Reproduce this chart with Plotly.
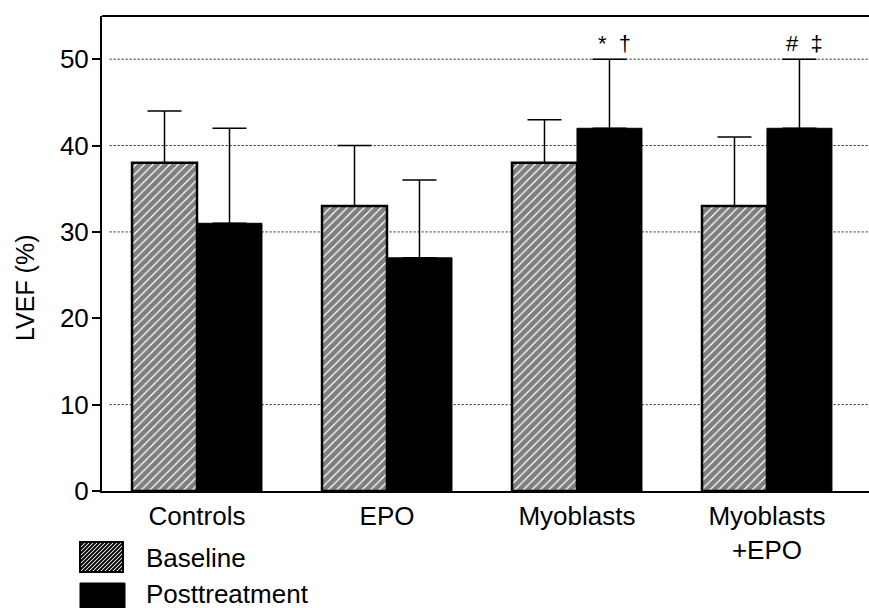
import plotly.graph_objects as go

# ---- data ----
categories = ["Controls", "EPO", "Myoblasts", "Myoblasts<br>+EPO"]
baseline = [38, 33, 38, 33]
baseline_sd = [6, 7, 5, 8]
posttreatment = [31, 27, 42, 42]
posttreatment_sd = [11, 9, 8, 8]
sig_labels = ["", "", "*  †", "#  ‡"]
y_ticks = [0, 10, 20, 30, 40, 50]
grid_levels = [10, 30, 40, 50]
legend_names = ["Baseline", "Posttreatment"]

# ---- layout constants (pixels) ----
W, H = 869, 608
L, R, T, B = 102, 0, 16, 117
PW, PH = W - L - R, H - T - B
FONT = "Liberation Sans, Arial, sans-serif"
FS = 26


def px2x(px):
    return (px - L) / PW


def py2y(py):
    return (H - B - py) / PH


fig = go.Figure()
fig.add_trace(go.Bar(
    x=categories, y=baseline, name=legend_names[0],
    marker=dict(color="white",
                pattern=dict(shape="/", fgcolor="black", bgcolor="white",
                             size=6, solidity=0.8),
                line=dict(color="black", width=2.5)),
    error_y=dict(type="data", array=baseline_sd,
                 arrayminus=[0] * len(baseline_sd), symmetric=False,
                 color="black", thickness=1.5, width=17),
    showlegend=False,
))
fig.add_trace(go.Bar(
    x=categories, y=posttreatment, name=legend_names[1],
    marker=dict(color="black", line=dict(color="black", width=1)),
    error_y=dict(type="data", array=posttreatment_sd,
                 arrayminus=[0] * len(posttreatment_sd), symmetric=False,
                 color="black", thickness=1.5, width=17),
    showlegend=False,
))

shapes = []
for g in grid_levels:
    shapes.append(dict(type="line", xref="paper", yref="y", x0=0.01, x1=1,
                       y0=g, y1=g, layer="below",
                       line=dict(color="#222222", width=1, dash="2px,2px")))
# top frame line
shapes.append(dict(type="line", xref="paper", yref="paper", x0=0, x1=1,
                   y0=1, y1=1, line=dict(color="black", width=2)))

# legend swatches drawn manually (large boxes as in the figure)
bx0, bx1, by0, by1 = 80, 123, 542, 572
shapes.append(dict(type="rect", xref="paper", yref="paper",
                   x0=px2x(bx0), x1=px2x(bx1), y0=py2y(by1), y1=py2y(by0),
                   fillcolor="white", line=dict(color="black", width=2)))
path = ""
step = 4
c = bx0 + by0
while c <= bx1 + by1:
    xa = max(bx0, c - by1)
    xb = min(bx1, c - by0)
    if xb > xa:
        path += "M%.5f,%.5f L%.5f,%.5f " % (px2x(xa), py2y(c - xa),
                                            px2x(xb), py2y(c - xb))
    c += step
shapes.append(dict(type="path", xref="paper", yref="paper", path=path,
                   line=dict(color="black", width=1.8)))
shapes.append(dict(type="rect", xref="paper", yref="paper",
                   x0=px2x(80), x1=px2x(125), y0=py2y(612), y1=py2y(583),
                   fillcolor="black", line=dict(color="black", width=1)))

annotations = [
    dict(text=legend_names[0], xref="paper", yref="paper", x=px2x(144),
         y=py2y(558), xanchor="left", yanchor="middle", showarrow=False,
         font=dict(size=FS, color="black", family=FONT)),
    dict(text=legend_names[1], xref="paper", yref="paper", x=px2x(144),
         y=py2y(594), xanchor="left", yanchor="middle", showarrow=False,
         font=dict(size=FS, color="black", family=FONT)),
    dict(text="LVEF (%)", xref="paper", yref="paper", x=px2x(25),
         y=py2y(288), xanchor="center", yanchor="middle", textangle=-90,
         showarrow=False, font=dict(size=25, color="black", family=FONT)),
]
for cat, lab, v, sd in zip(categories, sig_labels, posttreatment, posttreatment_sd):
    if lab:
        annotations.append(dict(text=lab, x=cat, y=v + sd, xref="x", yref="y",
                                xshift=38, yanchor="bottom", yshift=1,
                                showarrow=False,
                                font=dict(size=22, color="black", family=FONT)))

fig.update_layout(
    width=W, height=H,
    margin=dict(l=L, r=R, t=T, b=B),
    paper_bgcolor="white", plot_bgcolor="white",
    barmode="group", bargap=0.316, bargroupgap=0,
    font=dict(family=FONT, size=FS, color="black"),
    shapes=shapes, annotations=annotations,
    xaxis=dict(type="category", range=[-0.5, 3.537], showline=True,
               linecolor="black", linewidth=2, ticks="outside", ticklen=1,
               tickcolor="white", showgrid=False,
               tickfont=dict(size=FS, color="black", family=FONT)),
    yaxis=dict(range=[0, 55], tickvals=y_ticks, showline=True,
               linecolor="black", linewidth=2, ticks="outside", ticklen=8,
               tickwidth=2, tickcolor="black", showgrid=False,
               zeroline=False, ticklabelstandoff=-2,
               tickfont=dict(size=FS, color="black", family=FONT)),
)

fig.write_html("out.html")
